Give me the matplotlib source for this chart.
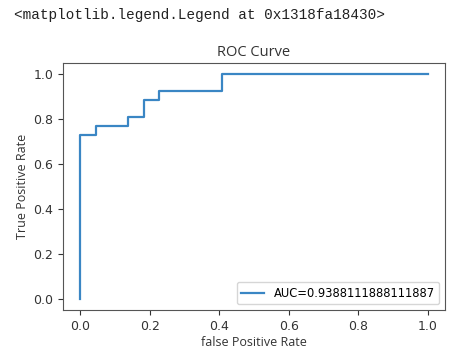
import matplotlib
matplotlib.use("Agg")
import matplotlib.pyplot as plt

# roc curve corners (22 negatives, 26 positives)
fpr = [0.0, 0.0, 0.04545, 0.04545, 0.13636, 0.13636, 0.18182, 0.18182,
       0.22727, 0.22727, 0.40909, 0.40909, 1.0]
tpr = [0.0, 0.73077, 0.73077, 0.76923, 0.76923, 0.80769, 0.80769, 0.88462,
       0.88462, 0.92308, 0.92308, 1.0, 1.0]
auc = 0.9388111888111887

label_font = "Open Sans"

fig = plt.figure(figsize=(4.74, 3.58), dpi=100)
ax = fig.add_axes([63 / 474, 1 - 310 / 358, 382 / 474, 247 / 358])

ax.plot(fpr, tpr, color="#3a86c4", linewidth=1.6, label="AUC=" + str(auc))
ax.set_title("ROC Curve", fontsize=10.5, family=label_font, color="#333333", pad=5)
ax.set_xlabel("false Positive Rate", fontsize=9, family=label_font, color="#333333", labelpad=2)
ax.set_ylabel("True Positive Rate", fontsize=9, family=label_font, color="#333333", labelpad=3)
ax.tick_params(labelsize=9, colors="#333333", length=3.5)
for s in ax.spines.values():
    s.set_color("#555555")
ax.set_xticks([0.0, 0.2, 0.4, 0.6, 0.8, 1.0])
ax.set_yticks([0.0, 0.2, 0.4, 0.6, 0.8, 1.0])
ax.legend(loc=4, fontsize=8.3, handlelength=2.0)

fig.text(14 / 474, 1 - 15 / 358, "<matplotlib.legend.Legend at 0x1318fa18430>",
         family="Liberation Mono", fontsize=10.4, va="center", ha="left", color="#222222")

fig.savefig("out.png", dpi=100)
